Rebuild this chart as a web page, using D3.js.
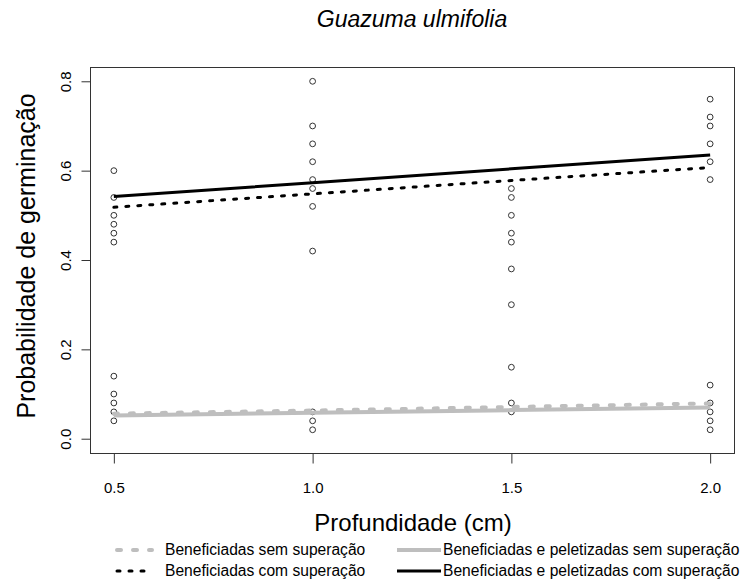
<!DOCTYPE html>
<html>
<head>
<meta charset="utf-8">
<script src="https://cdn.jsdelivr.net/npm/d3@7"></script>
<style>
  body { margin: 0; background: #fff; }
  text { font-family: "Liberation Sans", Arial, sans-serif; fill: #000; }
</style>
</head>
<body>
<svg id="chart" width="744" height="582"></svg>
<script>
// depths (cm) and observed germination per depth
var depths = [0.5, 1.0, 1.5, 2.0]
var obsByDepth = [
  [0.60, 0.54, 0.50, 0.48, 0.46, 0.44, 0.14, 0.10, 0.08, 0.06, 0.04],
  [0.80, 0.70, 0.66, 0.62, 0.58, 0.56, 0.52, 0.42, 0.06, 0.04, 0.02],
  [0.56, 0.54, 0.50, 0.46, 0.44, 0.38, 0.30, 0.16, 0.08, 0.06],
  [0.76, 0.72, 0.70, 0.66, 0.62, 0.58, 0.12, 0.08, 0.06, 0.04, 0.02]
]

// fitted curves at each depth
var benefSem = [0.056, 0.063, 0.071, 0.079]
var benefCom = [0.518, 0.548, 0.578, 0.607]
var peletSem = [0.052, 0.058, 0.064, 0.070]
var peletCom = [0.542, 0.573, 0.604, 0.635]

var xTicks = [0.5, 1.0, 1.5, 2.0]
var yTicks = [0.0, 0.2, 0.4, 0.6, 0.8]

var seriesNames = [
  'Beneficiadas sem superação',
  'Beneficiadas com superação',
  'Beneficiadas e peletizadas sem superação',
  'Beneficiadas e peletizadas com superação'
]

var styles = [
  {color: '#bebebe', width: 4, dash: '4,12'},
  {color: '#000', width: 3, dash: '3,9'},
  {color: '#bebebe', width: 4, dash: null},
  {color: '#000', width: 3, dash: null}
]
var seriesValues = [benefSem, benefCom, peletSem, peletCom]

var box = {left: 90, right: 734, top: 67, bottom: 453}

var svg = d3.select('#chart')

var x = d3.scaleLinear().domain([0.44, 2.06]).range([box.left, box.right])
var y = d3.scaleLinear().domain([-0.032, 0.832]).range([box.bottom, box.top])

// points
var pts = []
obsByDepth.forEach(function(vals, i) {
  vals.forEach(function(v) { pts.push({x: depths[i], y: v}) })
})

svg.append('g').selectAll('circle')
    .data(pts)
  .enter().append('circle')
    .attr('cx', function(d) { return x(d.x) })
    .attr('cy', function(d) { return y(d.y) })
    .attr('r', 2.9)
    .attr('fill', 'none')
    .attr('stroke', '#333')
    .attr('stroke-width', 1)

// fitted lines
var line = d3.line()
    .x(function(d, i) { return x(depths[i]) })
    .y(function(d) { return y(d) })

seriesValues.forEach(function(vals, i) {
  var s = styles[i]
  svg.append('path')
      .attr('d', line(vals))
      .attr('fill', 'none')
      .attr('stroke', s.color)
      .attr('stroke-width', s.width)
      .attr('stroke-dasharray', s.dash)
      .attr('stroke-linecap', s.dash ? 'round' : 'butt')
})

// box
svg.append('rect')
    .attr('x', box.left + 0.5)
    .attr('y', box.top + 0.5)
    .attr('width', box.right - box.left)
    .attr('height', box.bottom - box.top)
    .attr('fill', 'none')
    .attr('stroke', '#333')

// axes
var xAxis = d3.axisBottom(x).tickValues(xTicks).tickFormat(d3.format('.1f')).tickSize(10).tickPadding(19)
var gx = svg.append('g')
    .attr('transform', 'translate(0,' + (box.bottom + 0.5) + ')')
    .call(xAxis)
gx.select('.domain').remove()
gx.selectAll('line').attr('stroke', '#333')
gx.selectAll('text').style('font-size', '15px').attr('fill', '#000')

var yAxis = d3.axisLeft(y).tickValues(yTicks).tickFormat(d3.format('.1f')).tickSize(9).tickPadding(0)
var gy = svg.append('g')
    .attr('transform', 'translate(' + (box.left + 0.5) + ',0)')
    .call(yAxis)
gy.select('.domain').remove()
gy.selectAll('line').attr('stroke', '#333')
gy.selectAll('text')
    .style('font-size', '15px')
    .attr('fill', '#000')
    .attr('x', null).attr('dy', null)
    .attr('text-anchor', 'middle')
    .attr('transform', 'translate(-20,0) rotate(-90)')

// titles
svg.append('text')
    .attr('x', 412).attr('y', 27)
    .attr('text-anchor', 'middle')
    .style('font-size', '23px')
    .style('font-style', 'italic')
    .text('Guazuma ulmifolia')

svg.append('text')
    .attr('x', 413).attr('y', 531)
    .attr('text-anchor', 'middle')
    .style('font-size', '24px')
    .text('Profundidade (cm)')

svg.append('text')
    .attr('transform', 'translate(35,256) rotate(-90)')
    .attr('text-anchor', 'middle')
    .style('font-size', '25px')
    .text('Probabilidade de germinação')

// legend
var legPos = [
  {x1: 117, x2: 152, tx: 165, y: 550},
  {x1: 117, x2: 152, tx: 165, y: 571},
  {x1: 397, x2: 441, tx: 443, y: 550},
  {x1: 397, x2: 441, tx: 443, y: 571}
]
var leg = svg.append('g').selectAll('g')
    .data(seriesNames)
  .enter().append('g')

leg.append('line')
    .attr('x1', function(d, i) { return legPos[i].x1 })
    .attr('x2', function(d, i) { return legPos[i].x2 })
    .attr('y1', function(d, i) { return legPos[i].y })
    .attr('y2', function(d, i) { return legPos[i].y })
    .attr('stroke', function(d, i) { return styles[i].color })
    .attr('stroke-width', function(d, i) { return styles[i].width })
    .attr('stroke-dasharray', function(d, i) { return styles[i].dash })
    .attr('stroke-linecap', function(d, i) { return styles[i].dash ? 'round' : 'butt' })

leg.append('text')
    .attr('x', function(d, i) { return legPos[i].tx })
    .attr('y', function(d, i) { return legPos[i].y + 5 })
    .style('font-size', '15.6px')
    .text(function(d) { return d })
</script>
</body>
</html>
